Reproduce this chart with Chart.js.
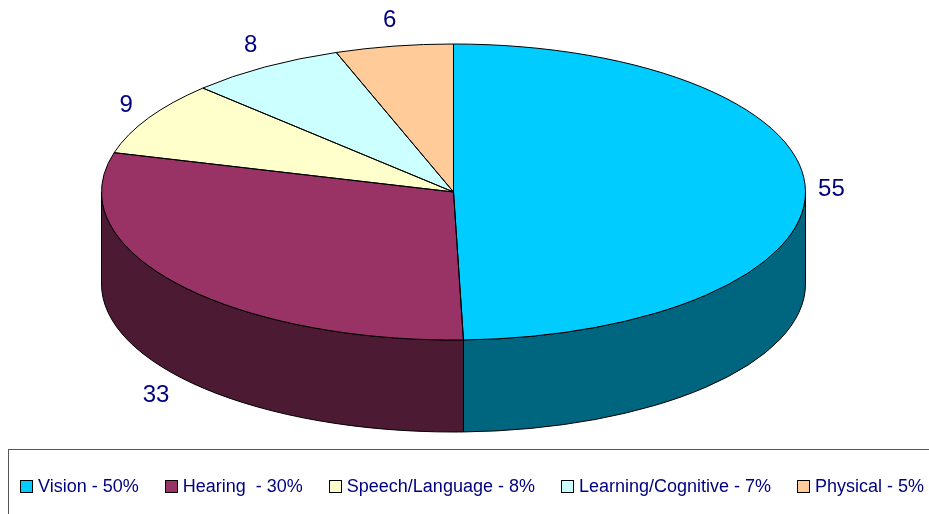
<!DOCTYPE html>
<html>
<head>
<meta charset="utf-8">
<script src="https://cdn.jsdelivr.net/npm/chart.js@4"></script>
<style>
  body { margin: 0; background: #fff; font-family: "Liberation Sans", Arial, sans-serif; }
  #wrap { position: relative; width: 929px; height: 514px; overflow: hidden; }
  #legendBox {
    position: absolute; left: 8px; top: 449px; width: 960px; height: 100px;
    border: 1px solid #555; box-sizing: border-box;
  }
  #legend {
    position: absolute; left: 20px; top: 476px;
    display: flex; align-items: center; gap: 26px;
    font-size: 18px; line-height: 20px; color: #000080; white-space: pre;
  }
  .item { display: flex; align-items: center; }
  .swatch { width: 11px; height: 11px; border: 1px solid #000; margin-right: 5px; }
</style>
</head>
<body>
<div id="wrap">
  <canvas id="pieChart"></canvas>
  <div id="legendBox"></div>
  <div id="legend"></div>
</div>
<script>
// Data
const categories = ["Vision", "Hearing ", "Speech/Language", "Learning/Cognitive", "Physical"];
const counts = [55, 33, 9, 8, 6];
const percentLabels = ["50%", "30%", "8%", "7%", "5%"];

// Colours
const topColors = ["#00CCFF", "#993366", "#FFFFCC", "#CCFFFF", "#FFCC99"];
const sideColors = ["#006680", "#4D1A33", "#80806A", "#6A8080", "#80664D"];

// 3D look
const tilt = 148 / 352;
const depth = 92;

// Legend (html)
const legendEl = document.getElementById("legend");
categories.forEach((name, i) => {
  const item = document.createElement("div");
  item.className = "item";
  const sw = document.createElement("span");
  sw.className = "swatch";
  sw.style.background = topColors[i];
  const txt = document.createElement("span");
  txt.textContent = name + " - " + percentLabels[i];
  item.appendChild(sw);
  item.appendChild(txt);
  legendEl.appendChild(item);
});

// Flattened pie with side walls, outlines and value labels
const pie3d = {
  id: "pie3d",
  beforeDatasetsDraw(chart) {
    const ctx = chart.ctx;
    const arcs = chart.getDatasetMeta(0).data;
    ctx.save();
    ctx.lineWidth = 1;
    ctx.strokeStyle = "#000";
    arcs.forEach((arc, i) => {
      const { x, y, startAngle, endAngle, outerRadius } = arc.getProps(["x", "y", "startAngle", "endAngle", "outerRadius"], true);
      const ry = outerRadius * tilt;
      [0, 2 * Math.PI].forEach(k => {
        const a0 = Math.max(startAngle, k);
        const a1 = Math.min(endAngle, k + Math.PI);
        if (a1 <= a0) return;
        ctx.beginPath();
        ctx.moveTo(x + outerRadius * Math.cos(a0), y + ry * Math.sin(a0));
        ctx.ellipse(x, y, outerRadius, ry, 0, a0, a1);
        ctx.lineTo(x + outerRadius * Math.cos(a1), y + ry * Math.sin(a1) + depth);
        ctx.ellipse(x, y + depth, outerRadius, ry, 0, a1, a0, true);
        ctx.closePath();
        ctx.fillStyle = sideColors[i];
        ctx.fill();
        ctx.stroke();
      });
    });
    ctx.restore();

    // squash the circle into an ellipse for the top face
    const c = arcs[0];
    ctx.save();
    ctx.translate(c.x, c.y);
    ctx.scale(1, tilt);
    ctx.translate(-c.x, -c.y);
  },
  afterDatasetsDraw(chart) {
    const ctx = chart.ctx;
    ctx.restore();
    const arcs = chart.getDatasetMeta(0).data;
    ctx.save();
    ctx.lineWidth = 1;
    ctx.strokeStyle = "#000";
    arcs.forEach(arc => {
      const { x, y, startAngle, endAngle, outerRadius } = arc.getProps(["x", "y", "startAngle", "endAngle", "outerRadius"], true);
      ctx.beginPath();
      ctx.moveTo(x, y);
      ctx.ellipse(x, y, outerRadius, outerRadius * tilt, 0, startAngle, endAngle);
      ctx.closePath();
      ctx.stroke();
    });

    // value labels
    ctx.fillStyle = "#000080";
    ctx.font = '24px "Liberation Sans", Arial, sans-serif';
    ctx.textAlign = "center";
    ctx.textBaseline = "middle";
    arcs.forEach((arc, i) => {
      const { x, y, startAngle, endAngle, outerRadius } = arc.getProps(["x", "y", "startAngle", "endAngle", "outerRadius"], true);
      const mid = (startAngle + endAngle) / 2;
      const pad = 26;
      const lx = x + Math.cos(mid) * (outerRadius + pad);
      let ly = y + Math.sin(mid) * (outerRadius * tilt + pad);
      if (Math.sin(mid) > 0) ly += depth + 4;
      ctx.fillText(String(counts[i]), lx, ly);
    });
    ctx.restore();
  }
};

const ctxPie = document.getElementById("pieChart");
new Chart(ctxPie, {
  type: "pie",
  data: {
    labels: categories,
    datasets: [{
      data: counts,
      backgroundColor: topColors,
      borderWidth: 0,
      radius: 352,
      clip: false,
      hoverOffset: 0
    }]
  },
  options: {
    responsive: true,
    maintainAspectRatio: false,
    animation: false,
    events: [],
    layout: { padding: { left: 0, right: 22, top: 0, bottom: 130 } },
    plugins: {
      legend: { display: false },
      tooltip: { enabled: false }
    }
  },
  plugins: [pie3d]
});
</script>
</body>
</html>
